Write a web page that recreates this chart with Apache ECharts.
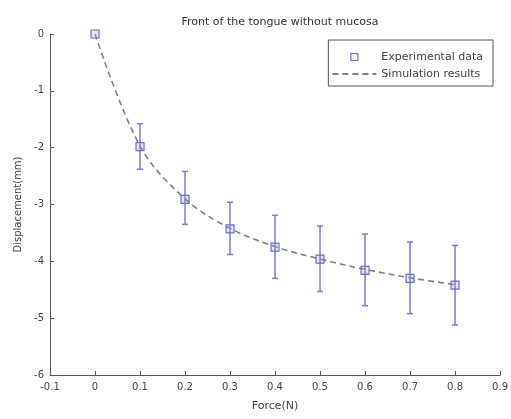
<!DOCTYPE html>
<html>
<head>
<meta charset="utf-8">
<script src="https://cdn.jsdelivr.net/npm/echarts@6/dist/echarts.min.js"></script>
<style>
  html, body { margin: 0; padding: 0; background: #fff; }
  #chart { width: 511px; height: 419px; }
</style>
</head>
<body>
<div id="chart"></div>
<script>
// force values (N)
const forces = [0, 0.1, 0.2, 0.3, 0.4, 0.5, 0.6, 0.7, 0.8]
// experimental mean displacement (mm)
const expMean = [0, -1.98, -2.91, -3.43, -3.75, -3.96, -4.16, -4.30, -4.42]
// error bar ends
const expUpper = [0, -1.58, -2.42, -2.96, -3.19, -3.38, -3.52, -3.66, -3.72]
const expLower = [0, -2.38, -3.35, -3.88, -4.30, -4.53, -4.78, -4.92, -5.12]
// simulation curve
const simValues = [0, -1.97, -2.90, -3.42, -3.74, -3.96, -4.14, -4.29, -4.41]

const markColor = "#6e6ec8"
const textColor = "#444"
const font = "DejaVu Sans"

const chart = echarts.init(document.getElementById("chart"))

const renderErrorBar = (params, api) => {
  const x = api.value(0)
  const top = api.coord([x, api.value(2)])
  const bottom = api.coord([x, api.value(1)])
  const half = 3
  const style = { stroke: "#7c7cd0", lineWidth: 1.5 }
  return {
    type: "group",
    children: [
      { type: "line", shape: { x1: top[0], y1: top[1], x2: bottom[0], y2: bottom[1] }, style },
      { type: "line", shape: { x1: top[0] - half, y1: top[1], x2: top[0] + half, y2: top[1] }, style },
      { type: "line", shape: { x1: bottom[0] - half, y1: bottom[1], x2: bottom[0] + half, y2: bottom[1] }, style }
    ]
  }
}

chart.setOption({
  animation: false,
  title: {
    text: "Front of the tongue without mucosa",
    left: 275,
    textAlign: "center",
    top: 12,
    textStyle: { fontSize: 11, fontWeight: "normal", color: "#333", fontFamily: font }
  },
  legend: {
    orient: "vertical",
    right: 18,
    top: 40,
    padding: [10, 10, 5, 3],
    itemGap: 3,
    itemWidth: 44,
    itemHeight: 8,
    borderColor: "#555",
    borderWidth: 1,
    textStyle: { fontSize: 11, lineHeight: 14, color: textColor, fontFamily: font },
    data: [
      {
        name: "Experimental data",
        icon: "path://M0,0 M44,8 M18.5,0.5 h7 v7 h-7 z",
        itemStyle: { color: "#fff", borderColor: markColor, borderWidth: 1.2 }
      },
      {
        name: "Simulation results",
        itemStyle: { color: "rgba(0,0,0,0)", borderColor: "rgba(0,0,0,0)", borderWidth: 0 }
      }
    ]
  },
  grid: { left: 50, right: 10, top: 34, bottom: 44 },
  xAxis: {
    type: "value",
    min: -0.1,
    max: 0.9,
    interval: 0.1,
    name: "Force(N)",
    nameLocation: "middle",
    nameGap: 26,
    nameTextStyle: { fontSize: 11, color: textColor, fontFamily: font },
    axisLine: { onZero: false, lineStyle: { color: "#555" } },
    axisTick: { inside: true, length: 4, lineStyle: { color: "#555" } },
    axisLabel: {
      fontSize: 10,
      color: textColor,
      fontFamily: font,
      margin: 7,
      formatter: v => String(Number(v.toFixed(1)))
    },
    splitLine: { show: false }
  },
  yAxis: {
    type: "value",
    min: -6,
    max: 0,
    interval: 1,
    name: "Displacement(mm)",
    nameLocation: "middle",
    nameGap: 26,
    nameTextStyle: { fontSize: 10, color: textColor, fontFamily: font },
    axisLine: { show: true, onZero: false, lineStyle: { color: "#555" } },
    axisTick: { show: true, inside: true, length: 4, lineStyle: { color: "#555" } },
    axisLabel: { fontSize: 10, color: textColor, fontFamily: font, margin: 6 },
    splitLine: { show: false }
  },
  series: [
    {
      name: "Simulation results",
      type: "line",
      smooth: 0.35,
      symbol: "none",
      data: forces.map((f, i) => [f, simValues[i]]),
      lineStyle: { color: "#808080", width: 1.6, type: [6, 4] },
      itemStyle: { color: "#808080" },
      z: 2
    },
    {
      name: "Error",
      type: "custom",
      renderItem: renderErrorBar,
      data: forces.slice(1).map((f, i) => [f, expLower[i + 1], expUpper[i + 1]]),
      z: 3
    },
    {
      name: "Experimental data",
      type: "scatter",
      symbol: "rect",
      symbolSize: 8,
      data: forces.map((f, i) => [f, expMean[i]]),
      itemStyle: { color: "rgba(150,150,220,0.25)", borderColor: markColor, borderWidth: 1.2, opacity: 1 },
      z: 4
    }
  ]
})
</script>
</body>
</html>
